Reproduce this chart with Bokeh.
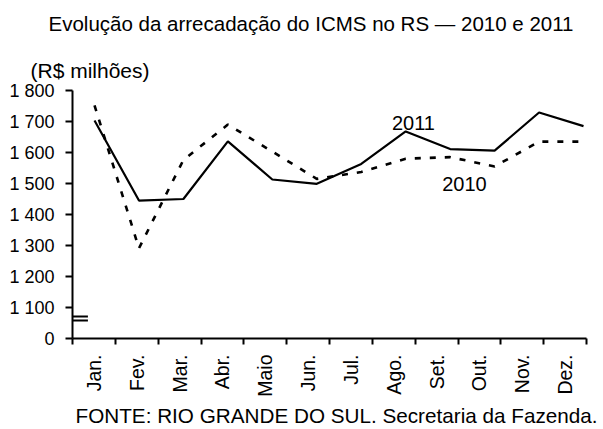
import math
from bokeh.plotting import figure
from bokeh.models import Range1d, FixedTicker, Label, Title
from bokeh.embed import file_html
from bokeh.resources import INLINE

# ---- data ----
MONTHS = ["Jan.", "Fev.", "Mar.", "Abr.", "Maio", "Jun.", "Jul.", "Ago.",
          "Set.", "Out.", "Nov.", "Dez."]
ICMS_2010 = [1752, 1291, 1576, 1690, 1603, 1515, 1537, 1580, 1585, 1555, 1635, 1635]
ICMS_2011 = [1703, 1445, 1450, 1636, 1513, 1499, 1563, 1668, 1611, 1606, 1729, 1685]
Y_TICK_VALUES = [1000, 1100, 1200, 1300, 1400, 1500, 1600, 1700, 1800]
Y_TICK_LABELS = ["0", "1 100", "1 200", "1 300", "1 400", "1 500", "1 600", "1 700", "1 800"]
SERIES_LABELS = ["2010", "2011"]
TITLE = "Evolução da arrecadação do ICMS no RS — 2010 e 2011"
UNIT = "(R$ milhões)"
SOURCE = "FONTE: RIO GRANDE DO SUL. Secretaria da Fazenda."

FONT = "Liberation Sans"

p = figure(width=603, height=429, output_backend="svg", toolbar_location=None,
           x_range=Range1d(0, len(MONTHS)), y_range=Range1d(1000, 1800),
           min_border_left=72, min_border_right=17, min_border_top=90,
           min_border_bottom=90, title=None)
p.extra_x_ranges = {"months": Range1d(-0.495, 11.067)}
p.outline_line_color = None
p.grid.visible = False
p.background_fill_color = "white"
p.border_fill_color = "white"

# x axis: ticks at category boundaries (minor), labels at centres (major)
xa = p.xaxis[0]
centres = [i + 0.5 for i in range(len(MONTHS))]
xa.ticker = FixedTicker(ticks=centres, minor_ticks=list(range(len(MONTHS) + 1)))
xa.major_label_overrides = {c: m for c, m in zip(centres, MONTHS)}
xa.major_tick_out = 0
xa.major_tick_in = 0
xa.minor_tick_out = 6
xa.minor_tick_in = 0
xa.minor_tick_line_color = "black"
xa.minor_tick_line_width = 2
xa.axis_line_color = "black"
xa.axis_line_width = 2
xa.major_label_orientation = math.pi / 2
xa.major_label_standoff = 10
xa.major_label_text_font = FONT
xa.major_label_text_font_size = "19.5px"
xa.major_label_text_color = "black"

ya = p.yaxis[0]
ya.ticker = FixedTicker(ticks=Y_TICK_VALUES, minor_ticks=[])
ya.major_label_overrides = dict(zip(Y_TICK_VALUES, Y_TICK_LABELS))
ya.major_tick_out = 7
ya.major_tick_in = 0
ya.major_tick_line_width = 2
ya.major_tick_line_color = "black"
ya.minor_tick_out = 0
ya.minor_tick_in = 0
ya.axis_line_color = "black"
ya.axis_line_width = 2
ya.major_label_standoff = 11
ya.major_label_text_font = FONT
ya.major_label_text_font_size = "18px"
ya.major_label_text_color = "black"

xs = list(range(len(MONTHS)))
p.line(xs, ICMS_2011, x_range_name="months", line_color="black", line_width=2.2)
p.line(xs, ICMS_2010, x_range_name="months", line_color="black", line_width=2.6,
       line_dash="6 9")

# axis-break marks
p.segment(x0=[0, 0], y0=[1058, 1071], x1=[0.36, 0.36], y1=[1058, 1071],
          line_color="black", line_width=2)

# series labels inside the frame
for x, y, t in [(7.96, 1694, SERIES_LABELS[1]), (9.15, 1497, SERIES_LABELS[0])]:
    p.add_layout(Label(x=x, y=y, text=t, text_align="center",
                       text_baseline="middle", text_font=FONT,
                       text_font_size="20px", text_color="black"))

# texts outside the frame: titles in the side panels
unit_t = Title(text=UNIT, align="left", offset=-42, standoff=17.6,
               vertical_align="bottom",
               text_font=FONT, text_font_size="21px", text_font_style="normal",
               text_color="black")
p.add_layout(unit_t, "above")
main_t = Title(text=TITLE, align="left", offset=-24, standoff=21,
               vertical_align="top",
               text_font=FONT, text_font_size="20.5px", text_font_style="normal",
               text_color="black")
p.add_layout(main_t, "above")
src_t = Title(text=SOURCE, align="right", offset=-11, standoff=5,
              vertical_align="bottom",
              text_font=FONT, text_font_size="20.7px", text_font_style="normal",
              text_color="black")
p.add_layout(src_t, "below")

open("out.html", "w").write(file_html(p, INLINE))
